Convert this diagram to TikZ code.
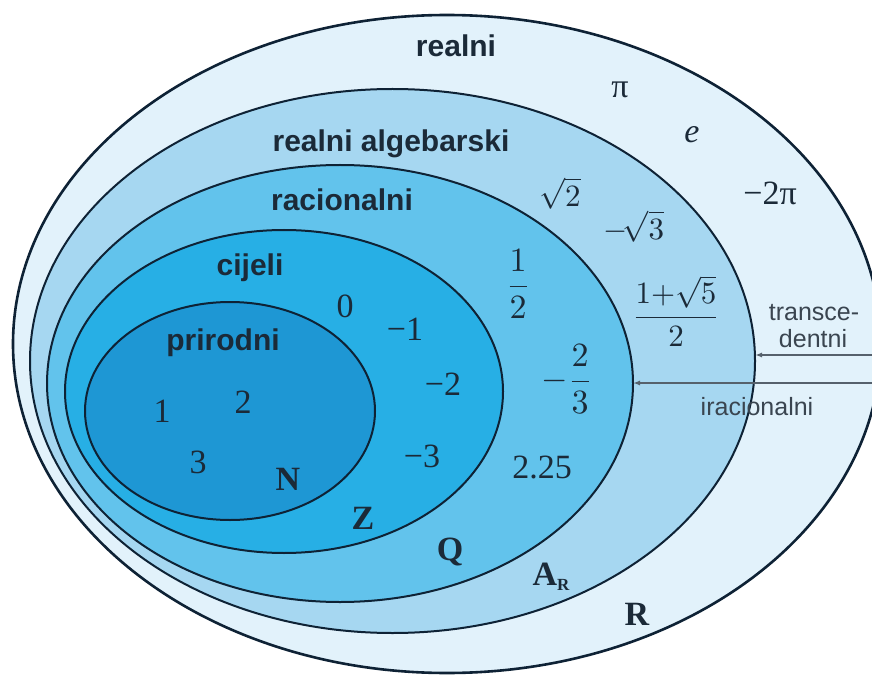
\documentclass[tikz,border=0pt]{standalone}
\usepackage{fontspec}
\usepackage{graphicx}
\setmainfont{Liberation Serif}
\setsansfont{Liberation Sans}
\usetikzlibrary{shapes.geometric,arrows.meta}
\definecolor{cR}{HTML}{E2F2FB}
\definecolor{cA}{HTML}{A6D7F1}
\definecolor{cQ}{HTML}{62C3EC}
\definecolor{cZ}{HTML}{27AFE5}
\definecolor{cN}{HTML}{1E97D4}
\definecolor{lineC}{HTML}{0E2235}
\definecolor{txt}{HTML}{1B2A38}
\definecolor{txtB}{HTML}{3A4550}
\definecolor{arrC}{HTML}{56616C}
\newcommand{\mymathbig}[2][3.4]{\scalebox{#1}{$\displaystyle #2$}}
\begin{document}
\begin{tikzpicture}[x=1pt,y=-1pt,
  ell/.style={ellipse,draw=lineC,line width=2pt,inner sep=0pt,outer sep=0pt},
  lab/.style={font=\sffamily\bfseries\fontsize{30}{32}\selectfont,text=txt,anchor=base,inner sep=0pt},
  num/.style={font=\fontsize{34}{36}\selectfont,text=txt,anchor=base,inner sep=0pt},
  mth/.style={font=\fontsize{10}{12}\selectfont,text=txt,anchor=base,inner sep=0pt},
  fracn/.style={font=\fontsize{10}{12}\selectfont,text=txt,inner sep=0pt},
  setn/.style={font=\bfseries\fontsize{34}{36}\selectfont,text=txt,anchor=base,inner sep=0pt},
  note/.style={font=\sffamily\fontsize{25}{27}\selectfont,text=txtB,anchor=base,inner sep=0pt},
  arr/.style={draw=arrC,line width=1.5pt,-{Latex[length=7pt,width=5pt]}}]
\useasboundingbox (0,0) rectangle (872,676);
\fill[white] (0,0) rectangle (872,676);
% sets
\node[ell,fill=cR,line width=2.6pt,minimum width=868pt,minimum height=658pt] (R) at (447,344) {};
\node[ell,fill=cA,minimum width=725pt,minimum height=544pt] (AR) at (392.5,361) {};
\node[ell,fill=cQ,minimum width=586pt,minimum height=437pt] (Q) at (340,383.5) {};
\node[ell,fill=cZ,minimum width=438pt,minimum height=323pt] (Z) at (284,391.5) {};
\node[ell,fill=cN,minimum width=290pt,minimum height=218pt] (N) at (230,411) {};
% set names
\node[lab] (lR) at (456,57) {realni};
\node[lab] (lA) at (391,152) {realni algebarski};
\node[lab] (lQ) at (342,211) {racionalni};
\node[lab] (lZ) at (250,275) {cijeli};
\node[lab] (lN) at (223,350) {prirodni};
% transcendental
\node[num] (pi) at (620,98) {π};
\node[num] (e) at (692,143) {\textit{e}};
\node[num] (m2pi) at (770,205) {−2π};
% algebraic irrational
\node[mth] (s2) at (560,207) {\mymathbig[3.1]{\sqrt{2}}};
\node[mth] (ms3) at (634,240) {\mymathbig[3.1]{-\!\sqrt{3}}};
\node[fracn] (f5) at (676,311) {\mymathbig[3.1]{\frac{1{+}\sqrt{5}}{2}}};
% rational
\node[fracn] (h) at (518,284) {\mymathbig{\frac{1}{2}}};
\node[fracn] (t) at (567,379) {\mymathbig{-\frac{2}{3}}};
\node[num] (d) at (542,478) {2.25};
% integers
\node[num] (z0) at (345,317) {0};
\node[num] (zm1) at (405,340) {−1};
\node[num] (zm2) at (443,395) {−2};
\node[num] (zm3) at (422,467) {−3};
% naturals
\node[num] (n1) at (162,422) {1};
\node[num] (n2) at (243,413) {2};
\node[num] (n3) at (198,473) {3};
% symbols
\node[setn] (sN) at (288,490) {N};
\node[setn] (sZ) at (363,529) {Z};
\node[setn] (sQ) at (450,560) {Q};
\node[setn] (sA) at (551,585) {A\raisebox{-5pt}{\fontsize{17}{17}\selectfont R}};
\node[setn] (sR) at (637,625) {R};
% arrows
\coordinate (ts) at (872,355);
\coordinate (is) at (872,383);
\draw[arr] (ts) -- (ts -| AR.east);
\draw[arr] (is) -- (is -| Q.east);
\node[note] (tr1) at (814,320) {transce-};
\node[note] (tr2) at (813,347) {dentni};
\node[note] (ir) at (757,415) {iracionalni};
\end{tikzpicture}
\end{document}
